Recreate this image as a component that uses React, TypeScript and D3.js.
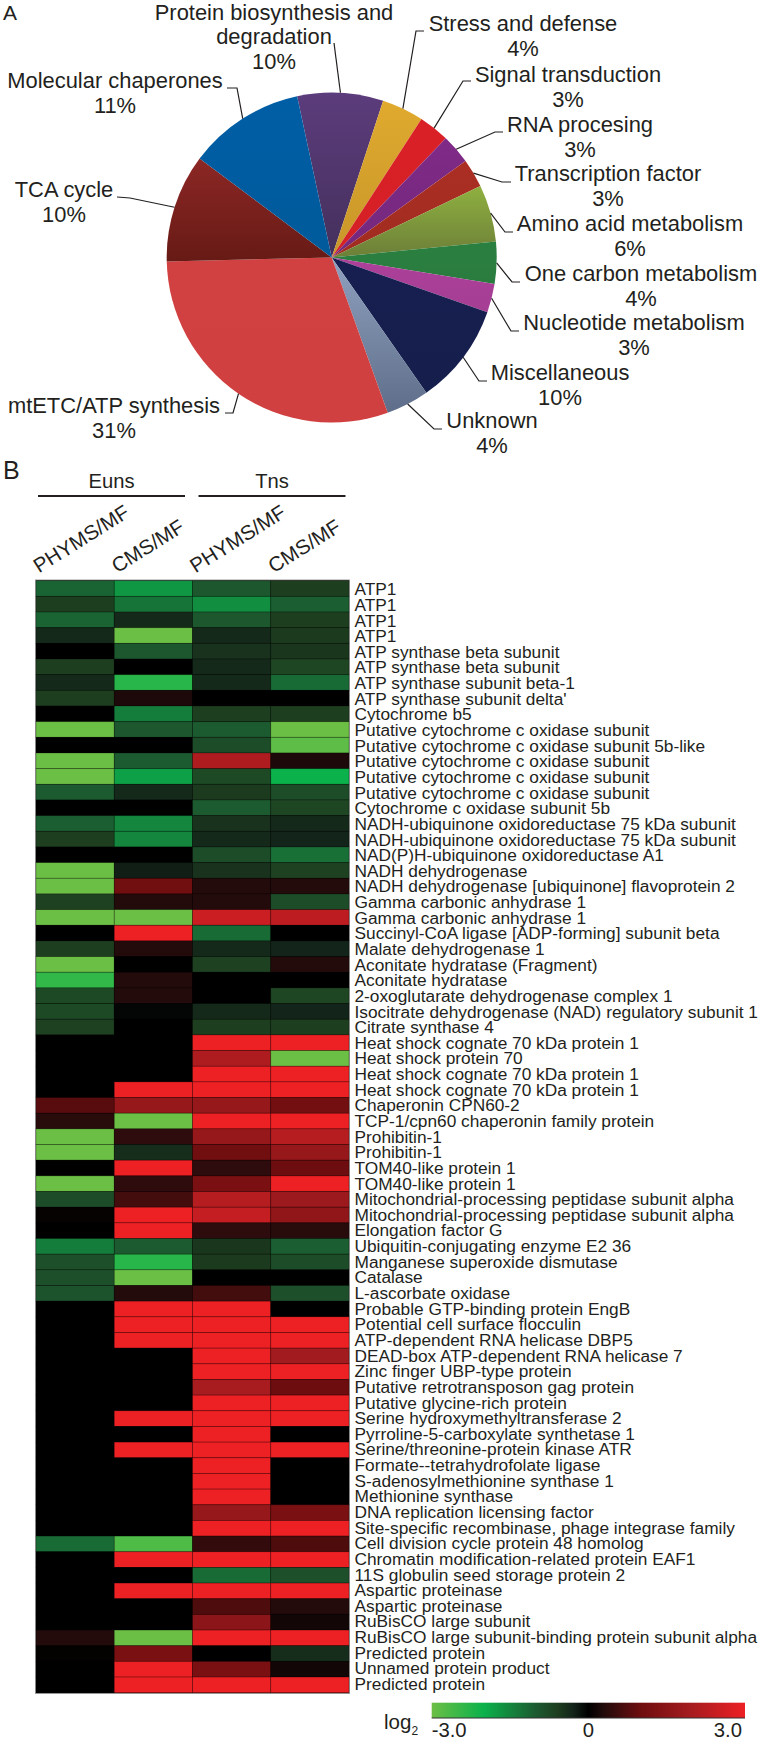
import React, { useEffect, useRef } from 'react';
import * as d3 from 'd3';

const pieNames = [
    ['Protein biosynthesis and', 'degradation'], ['Stress and defense'], ['Signal transduction'], ['RNA procesing'],
    ['Transcription factor'], ['Amino acid metabolism'], ['One carbon metabolism'], ['Nucleotide metabolism'],
    ['Miscellaneous'], ['Unknown'], ['mtETC/ATP synthesis'], ['TCA cycle'], ['Molecular chaperones']
];
const piePercents = ['10%', '4%', '3%', '3%', '3%', '6%', '4%', '3%', '10%', '4%', '31%', '10%', '11%'];
// slice sizes as drawn, they do not quite follow the printed percentages
const pieShares = [8.4, 4.1, 3.0, 2.9, 2.8, 5.6, 4.1, 2.8, 9.9, 4.2, 30.1, 10.6, 11.4];
const pieTopColors = ['#5c3c7c', '#e0aa2e', '#da2027', '#7f2a87', '#ab2e23', '#8fb040', '#2a8040', '#ad409a', '#161f50', '#8fa1bf', '#d24141', '#8c2725', '#005ea6'];
const pieBottomColors = ['#44305c', '#c8962a', '#d42026', '#74287c', '#a02c20', '#6c7f38', '#2a7c3e', '#a53e94', '#161e4c', '#5e6e8a', '#d04040', '#671a15', '#005a9a'];

// label centre x, first baseline, elbow of the leader line
const pieLabelLayout = [
    { x: 274, y: 20, from: [334, 43], elbow: null },
    { x: 523, y: 31, from: [424, 31], elbow: [416, 31] },
    { x: 568, y: 82, from: [471, 81], elbow: [463, 81] },
    { x: 580, y: 132, from: [503, 132], elbow: [495, 132] },
    { x: 608, y: 181, from: [511, 182], elbow: [502, 182] },
    { x: 630, y: 231, from: [513, 232], elbow: [505, 232] },
    { x: 641, y: 281, from: [520, 282], elbow: [512, 282] },
    { x: 634, y: 330, from: [519, 331], elbow: [511, 331] },
    { x: 560, y: 380, from: [487, 381], elbow: [479, 381] },
    { x: 492, y: 428, from: [442, 429], elbow: [434, 429] },
    { x: 114, y: 413, from: [225, 413], elbow: [233, 413] },
    { x: 64, y: 197, from: [117, 197], elbow: [130, 198] },
    { x: 115, y: 88, from: [227, 88], elbow: [237, 88] }
];

const groups = ['Euns', 'Tns'];
const comparisons = ['PHYMS/MF', 'CMS/MF', 'PHYMS/MF', 'CMS/MF'];

const proteins = [
    'ATP1', 'ATP1', 'ATP1', 'ATP1',
    'ATP synthase beta subunit', 'ATP synthase beta subunit', 'ATP synthase subunit beta-1', "ATP synthase subunit delta'",
    'Cytochrome b5', 'Putative cytochrome c oxidase subunit', 'Putative cytochrome c oxidase subunit 5b-like',
    'Putative cytochrome c oxidase subunit', 'Putative cytochrome c oxidase subunit', 'Putative cytochrome c oxidase subunit',
    'Cytochrome c oxidase subunit 5b', 'NADH-ubiquinone oxidoreductase 75 kDa subunit', 'NADH-ubiquinone oxidoreductase 75 kDa subunit',
    'NAD(P)H-ubiquinone oxidoreductase A1', 'NADH dehydrogenase', 'NADH dehydrogenase [ubiquinone] flavoprotein 2',
    'Gamma carbonic anhydrase 1', 'Gamma carbonic anhydrase 1', 'Succinyl-CoA ligase [ADP-forming] subunit beta',
    'Malate dehydrogenase 1', 'Aconitate hydratase (Fragment)', 'Aconitate hydratase', '2-oxoglutarate dehydrogenase complex 1',
    'Isocitrate dehydrogenase (NAD) regulatory subunit 1', 'Citrate synthase 4',
    'Heat shock cognate 70 kDa protein 1', 'Heat shock protein 70', 'Heat shock cognate 70 kDa protein 1', 'Heat shock cognate 70 kDa protein 1',
    'Chaperonin CPN60-2', 'TCP-1/cpn60 chaperonin family protein', 'Prohibitin-1', 'Prohibitin-1', 'TOM40-like protein 1', 'TOM40-like protein 1',
    'Mitochondrial-processing peptidase subunit alpha', 'Mitochondrial-processing peptidase subunit alpha', 'Elongation factor G',
    'Ubiquitin-conjugating enzyme E2 36', 'Manganese superoxide dismutase', 'Catalase', 'L-ascorbate oxidase',
    'Probable GTP-binding protein EngB', 'Potential cell surface flocculin', 'ATP-dependent RNA helicase DBP5',
    'DEAD-box ATP-dependent RNA helicase 7', 'Zinc finger UBP-type protein', 'Putative retrotransposon gag protein',
    'Putative glycine-rich protein', 'Serine hydroxymethyltransferase 2', 'Pyrroline-5-carboxylate synthetase 1',
    'Serine/threonine-protein kinase ATR', 'Formate--tetrahydrofolate ligase', 'S-adenosylmethionine synthase 1', 'Methionine synthase',
    'DNA replication licensing factor', 'Site-specific recombinase, phage integrase family', 'Cell division cycle protein 48 homolog',
    'Chromatin modification-related protein EAF1', '11S globulin seed storage protein 2', 'Aspartic proteinase', 'Aspartic proteinase',
    'RuBisCO large subunit', 'RuBisCO large subunit-binding protein subunit alpha', 'Predicted protein', 'Unnamed protein product', 'Predicted protein'
];

const euPhyms = [
    -1.1, -0.6, -1.1, -0.35, 0, -0.6, -0.35, -0.6, 0, -3, 0, -3, -3, -1, 0, -1.05, -0.6, 0, -3, -3, -0.65, -3, 0, -0.6, -3, -2.4, -0.75, -0.75, -0.65,
    0, 0, 0, 0, 0.8, 0.35, -3, -3, 0, -3, -0.8, 0.05, 0, -1.4, -0.85, -0.85, -0.9,
    0, 0, 0, 0, 0, 0, 0, 0, 0, 0, 0, 0, 0, 0, 0, -1.2, 0, 0, 0, 0, 0, 0.3, 0.03, 0, 0
];
const euCms = [
    -1.7, -1.3, -0.35, -3, -0.95, 0, -2.3, 0.25, -1.4, -0.95, 0, -1, -1.8, -0.35, 0, -1.5, -1.5, 0, -0.25, 1.05, 0.3, -3, 3, 0.3, 0, 0.3, 0.3, -0.05, 0,
    0, 0, 0, 3, 1.7, -3, 0.4, -0.4, 3, 0.4, 0.6, 3, 3, -1, -2.3, -3, 0.3,
    3, 3, 3, 0, 0, 0, 0, 3, 0, 3, 0, 0, 0, 0, 0, -2.7, 3, 0, 3, 0, 0, -3, 1.2, 3, 3
];
const tnPhyms = [
    -0.95, -1.6, -0.95, -0.35, -0.45, -0.35, -0.35, 0, -0.6, -1, -0.8, 2.1, -0.75, -0.55, -1, -0.45, -0.35, -0.8, -0.45, 0.3, 0.3, 2.5, -1.2, -0.35, -0.65, 0, 0, -0.35, -0.6,
    3, 2.1, 3, 3, 1.7, 3, 1.7, 1.05, 0.4, 1.2, 2.2, 2.4, 0.4, -0.5, -0.55, 0, 0.6,
    3, 3, 3, 3, 3, 2, 3, 3, 3, 3, 3, 3, 3, 1.7, 3, 0.45, 3, -1.2, 3, 0.7, 1.5, 3, 0, 1.2, 3
];
const tnCms = [
    -0.6, -1.05, -0.6, -0.55, -0.5, -0.7, -1.2, 0, -0.6, -3, -2.85, 0.25, -2, -0.8, -0.7, -0.35, -0.3, -1.25, -0.65, 0.3, -0.8, 2.3, 0, -0.3, 0.3, 0, -0.7, -0.3, -0.6,
    3, -3, 3, 3, 1.1, 3, 2.2, 1.7, 1, 3, 1.8, 1.6, 0.35, -1.05, -0.8, 0, -0.85,
    0, 3, 3, 1.9, 3, 1, 3, 3, 0, 3, 0, 0, 0, 1.2, 3, 0.7, 3, -0.85, 3, 0.3, 0.15, 3, -0.4, 0.15, 3
];
const heatColumns = [euPhyms, euCms, tnPhyms, tnCms];

const legendTicks = [-3, 0, 3];
const colorStops = [-3, -2, -1, -0.6, -0.3, 0, 0.3, 1, 2, 3];
const colorValues = ['#6cbf45', '#0bb14b', '#1c5a30', '#1e3f1f', '#13241a', '#000000', '#230b0b', '#6e0d0f', '#a81c20', '#ed2024'];

const FONT = '"Liberation Sans", Arial, sans-serif';
const INK = '#231f20';

const App: React.FC = () => {
    const chartRef = useRef<SVGSVGElement | null>(null);

    useEffect(() => {
        if (!chartRef.current) return;
        const svg = d3.select(chartRef.current);
        svg.selectAll('*').remove();
        const defs = svg.append('defs');

        const addText = (x: number, y: number, text: string, size: number, anchor = 'middle') =>
            svg.append('text')
                .attr('x', x)
                .attr('y', y)
                .attr('text-anchor', anchor)
                .style('font-size', `${size}px`)
                .style('font-family', FONT)
                .style('fill', INK)
                .text(text);

        // panel A
        addText(3, 19.5, 'A', 21, 'start');
        addText(3, 479, 'B', 25, 'start');

        const radius = 165;
        const startAngle = -12.1 * Math.PI / 180;
        const pie = d3.pie<number>().sort(null).startAngle(startAngle).endAngle(startAngle + 2 * Math.PI);
        const arc = d3.arc<d3.PieArcDatum<number>>().innerRadius(0).outerRadius(radius);
        const rim = d3.arc<d3.PieArcDatum<number>>().innerRadius(radius).outerRadius(radius);
        const arcs = pie(pieShares);
        const cx = 331.7;
        const cy = 257.5;

        arcs.forEach((d, i) => {
            const grad = defs.append('linearGradient')
                .attr('id', `slice-${i}`)
                .attr('x1', '0%').attr('y1', '0%').attr('x2', '0%').attr('y2', '100%');
            grad.append('stop').attr('offset', '0%').attr('stop-color', pieTopColors[i]);
            grad.append('stop').attr('offset', '100%').attr('stop-color', pieBottomColors[i]);
        });

        svg.append('g')
            .attr('transform', `translate(${cx},${cy})`)
            .selectAll('path')
            .data(arcs)
            .enter().append('path')
            .attr('d', d => arc(d) as string)
            .attr('fill', (d, i) => `url(#slice-${i})`);

        const leader = d3.line();
        arcs.forEach((d, i) => {
            const layout = pieLabelLayout[i];
            const [rx, ry] = rim.centroid(d);
            const pts: [number, number][] = [layout.from as [number, number]];
            if (layout.elbow) pts.push(layout.elbow as [number, number]);
            pts.push([cx + rx, cy + ry]);
            svg.append('path')
                .attr('d', leader(pts) as string)
                .attr('fill', 'none')
                .attr('stroke', INK)
                .attr('stroke-width', 1.2);
            const lines = [...pieNames[i], piePercents[i]];
            lines.forEach((line, j) => addText(layout.x, layout.y + j * (i === 0 ? 24.4 : 25.3), line, 21.9));
        });

        // panel B
        const x = d3.scaleBand<number>().domain(d3.range(heatColumns.length)).range([36, 349]);
        const y = d3.scaleBand<number>().domain(d3.range(proteins.length)).range([580.7, 1692.7]);
        const colorScale = d3.scaleLinear<string>().domain(colorStops).range(colorValues).clamp(true);

        svg.append('rect')
            .attr('x', 35.5).attr('y', 580)
            .attr('width', 314).attr('height', 1113.4)
            .attr('fill', '#000')
            .attr('stroke', '#9a9a9a');

        heatColumns.forEach((column, c) => {
            svg.append('g')
                .selectAll('rect')
                .data(column)
                .enter().append('rect')
                .attr('x', x(c) as number)
                .attr('y', (d, i) => y(i) as number)
                .attr('width', x.bandwidth())
                .attr('height', y.bandwidth())
                .attr('fill', d => colorScale(d))
                .attr('stroke', 'rgba(0,0,0,0.3)')
                .attr('stroke-width', 0.8);
        });

        const labelY = d3.scalePoint<number>().domain(d3.range(proteins.length)).range([595.3, 1690]);
        proteins.forEach((name, i) => addText(354.5, labelY(i) as number, name, 17.3, 'start'));

        groups.forEach((group, g) => {
            const left = x(g * 2) as number;
            const lineX = d3.scaleLinear().domain([0, 1]).range([left + 2 + g * 4, left + 149 + g * 4]);
            svg.append('line')
                .attr('x1', lineX(0)).attr('x2', lineX(1))
                .attr('y1', 496).attr('y2', 496)
                .attr('stroke', INK)
                .attr('stroke-width', 2);
            addText((lineX(0) + lineX(1)) / 2, 488, group, 20.2);
        });

        comparisons.forEach((name, c) => {
            const px = (x(c) as number) + 3;
            const py = 573.5;
            addText(px, py, name, 20.5, 'start').attr('transform', `rotate(-32, ${px}, ${py})`);
        });

        // colour key
        const legendX = d3.scaleLinear().domain([-3, 3]).range([431.7, 745]);
        const keyGradient = defs.append('linearGradient')
            .attr('id', 'key-gradient')
            .attr('x1', '0%').attr('y1', '0%').attr('x2', '100%').attr('y2', '0%');
        colorStops.forEach((stop, i) => {
            keyGradient.append('stop')
                .attr('offset', `${(legendX(stop) - 431.7) / (745 - 431.7) * 100}%`)
                .attr('stop-color', colorValues[i]);
        });
        svg.append('rect')
            .attr('x', legendX(-3)).attr('y', 1702.7)
            .attr('width', legendX(3) - legendX(-3)).attr('height', 15.3)
            .attr('fill', 'url(#key-gradient)');
        svg.append('line')
            .attr('x1', legendX(-3)).attr('x2', legendX(3))
            .attr('y1', 1718).attr('y2', 1718)
            .attr('stroke', '#333')
            .attr('stroke-width', 1);

        legendTicks.forEach(t => {
            const label = t === 0 ? '0' : t.toFixed(1);
            const anchor = t < 0 ? 'start' : t > 0 ? 'end' : 'middle';
            addText(legendX(t) + (t > 0 ? -3 : 0), 1736.7, label, 20.3, anchor);
        });
        addText(384, 1729, 'log', 20.5, 'start');
        addText(411.5, 1735, '2', 12, 'start');
    }, []);

    return (
        <svg
            ref={chartRef}
            width={759}
            height={1741}
            viewBox="0 0 759 1741"
            style={{ position: 'absolute', left: 0, top: 0, background: '#fff' }}
        ></svg>
    );
};

export default App;
